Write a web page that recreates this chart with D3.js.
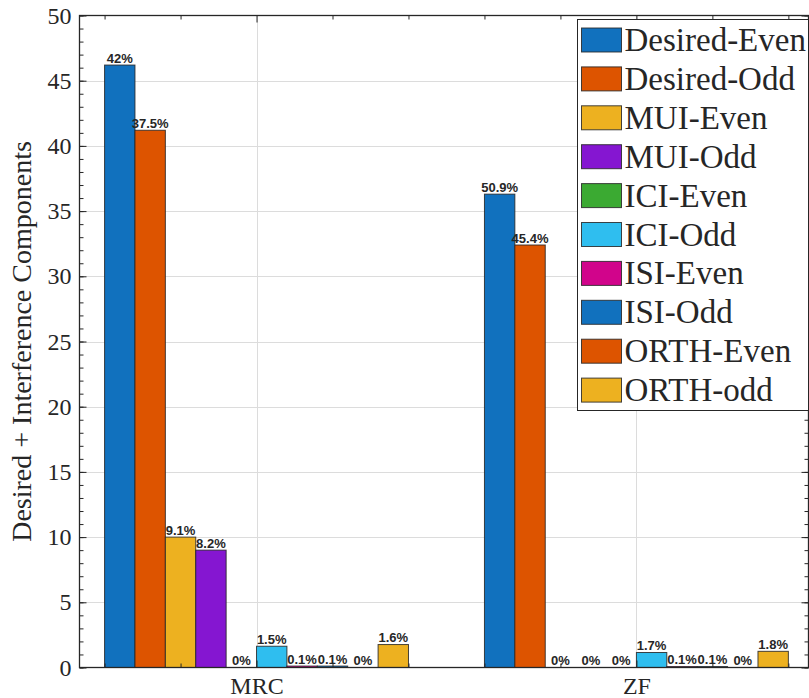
<!DOCTYPE html>
<html>
<head>
<meta charset="utf-8">
<script src="https://cdn.jsdelivr.net/npm/d3@7"></script>
<style>
  body { margin: 0; background: #fff; }
  svg text { fill: #262626; }
</style>
</head>
<body>
<div id="chart"></div>
<script>
const categories = ["MRC", "ZF"];
const seriesNames = ["Desired-Even", "Desired-Odd", "MUI-Even", "MUI-Odd", "ICI-Even",
    "ICI-Odd", "ISI-Even", "ISI-Odd", "ORTH-Even", "ORTH-odd"];
const seriesColors = ["#1171be", "#dd5400", "#edb120", "#8516d1", "#3baa32",
    "#2fbeef", "#d1048b", "#1171be", "#dd5400", "#edb120"];
const mrcValues = [46.2, 41.2, 10.0, 9.0, 0, 1.63, 0.11, 0.11, 0, 1.76];
const zfValues = [36.3, 32.4, 0, 0, 0, 1.15, 0.07, 0.07, 0, 1.24];
const mrcLabels = ["42%", "37.5%", "9.1%", "8.2%", "0%", "1.5%", "0.1%", "0.1%", "0%", "1.6%"];
const zfLabels = ["50.9%", "45.4%", "0%", "0%", "0%", "1.7%", "0.1%", "0.1%", "0%", "1.8%"];
const yMajorTicks = [0, 5, 10, 15, 20, 25, 30, 35, 40, 45, 50];

const width = 809, height = 698;
const box = {left: 79.5, right: 808.5, top: 15.5, bottom: 667.5};

const svg = d3.select("#chart").append("svg")
    .attr("width", width)
    .attr("height", height);

const x = d3.scaleLinear().domain([0.534, 2.453]).range([box.left, box.right]);
const y = d3.scaleLinear().domain([0, 50]).range([box.bottom, box.top]);

const rows = [mrcValues, zfValues].map((vals, ci) => vals.map((v, i) => ({
    cat: ci + 1, i, value: v, label: [mrcLabels, zfLabels][ci][i]
}))).flat();

// grid
const grid = svg.append("g").attr("stroke", "#dcdcdc").attr("stroke-width", 1);
grid.selectAll("line.h").data(yMajorTicks.slice(1, -1)).join("line")
    .attr("x1", box.left).attr("x2", box.right)
    .attr("y1", d => Math.round(y(d)) + 0.5).attr("y2", d => Math.round(y(d)) + 0.5);
grid.selectAll("line.v").data([1, 2]).join("line")
    .attr("y1", box.top).attr("y2", box.bottom)
    .attr("x1", d => Math.round(x(d)) + 0.5).attr("x2", d => Math.round(x(d)) + 0.5);

// bars
const barW = 0.08;
svg.append("g").selectAll("rect").data(rows).join("rect")
    .attr("x", d => x(d.cat - 0.4 + barW * d.i))
    .attr("width", x(barW) - x(0))
    .attr("y", d => y(d.value))
    .attr("height", d => y(0) - y(d.value))
    .attr("fill", d => seriesColors[d.i])
    .attr("stroke", "#262626")
    .attr("stroke-opacity", 0.85)
    .attr("stroke-width", 1);

svg.append("g").selectAll("text").data(rows).join("text")
    .attr("x", d => x(d.cat - 0.4 + barW * (d.i + 0.5)))
    .attr("y", d => y(d.value) - 2.5)
    .attr("text-anchor", "middle")
    .style("font-family", "'Liberation Sans', Arial, sans-serif")
    .style("font-weight", "bold")
    .style("font-size", "13px")
    .text(d => d.label);

// axes
const serif = "'Liberation Serif', 'Times New Roman', serif";
const minorY = d3.range(0, 51, 1);
const minorX = d3.range(0.6, 2.41, 0.2).filter(v => Math.abs(v - Math.round(v)) > 0.01);

function styleAxis(g) {
    g.select(".domain").remove();
    g.selectAll("line").attr("stroke", "#262626");
}

svg.append("g").attr("transform", `translate(${box.left},0)`)
    .call(d3.axisLeft(y).tickValues(yMajorTicks).tickSize(-7).tickPadding(8))
    .call(styleAxis)
    .call(g => g.selectAll("text").style("font-family", serif).style("font-size", "24px"));
svg.append("g").attr("transform", `translate(${box.left},0)`)
    .call(d3.axisLeft(y).tickValues(minorY).tickSize(-4).tickFormat(""))
    .call(styleAxis);
svg.append("g").attr("transform", `translate(${box.right},0)`)
    .call(d3.axisRight(y).tickValues(yMajorTicks).tickSize(-7).tickFormat(""))
    .call(styleAxis);
svg.append("g").attr("transform", `translate(${box.right},0)`)
    .call(d3.axisRight(y).tickValues(minorY).tickSize(-4).tickFormat(""))
    .call(styleAxis);

svg.append("g").attr("transform", `translate(0,${box.bottom})`)
    .call(d3.axisBottom(x).tickValues([1, 2]).tickSize(-7).tickPadding(9)
        .tickFormat(d => categories[d - 1]))
    .call(styleAxis)
    .call(g => g.selectAll("text").style("font-family", serif).style("font-size", "24px"));
svg.append("g").attr("transform", `translate(0,${box.bottom})`)
    .call(d3.axisBottom(x).tickValues(minorX).tickSize(-4).tickFormat(""))
    .call(styleAxis);
svg.append("g").attr("transform", `translate(0,${box.top})`)
    .call(d3.axisTop(x).tickValues([1, 2]).tickSize(-7).tickFormat(""))
    .call(styleAxis);
svg.append("g").attr("transform", `translate(0,${box.top})`)
    .call(d3.axisTop(x).tickValues(minorX).tickSize(-4).tickFormat(""))
    .call(styleAxis);

svg.append("rect")
    .attr("x", box.left).attr("y", box.top)
    .attr("width", box.right - box.left).attr("height", box.bottom - box.top)
    .attr("fill", "none").attr("stroke", "#262626").attr("stroke-width", 1.3);

svg.append("text")
    .attr("transform", `translate(31,${(box.top + box.bottom) / 2}) rotate(-90)`)
    .attr("text-anchor", "middle")
    .style("font-family", serif)
    .style("font-size", "28px")
    .text("Desired + Interference Components");

// legend
const leg = svg.append("g").attr("transform", "translate(577.5,19.5)");
leg.append("rect").attr("width", 231).attr("height", 391)
    .attr("fill", "#fff").attr("stroke", "#262626").attr("stroke-width", 1);
const item = leg.selectAll("g.item").data(seriesNames).join("g")
    .attr("class", "item")
    .attr("transform", (d, i) => `translate(0,${20.5 + i * 38.9})`);
item.append("rect")
    .attr("x", 4).attr("y", -12).attr("width", 40).attr("height", 24)
    .attr("fill", (d, i) => seriesColors[i])
    .attr("stroke", "#262626").attr("stroke-opacity", 0.85);
item.append("text")
    .attr("x", 47).attr("y", 11)
    .style("font-family", serif)
    .style("font-size", "33px")
    .text(d => d);
</script>
</body>
</html>
